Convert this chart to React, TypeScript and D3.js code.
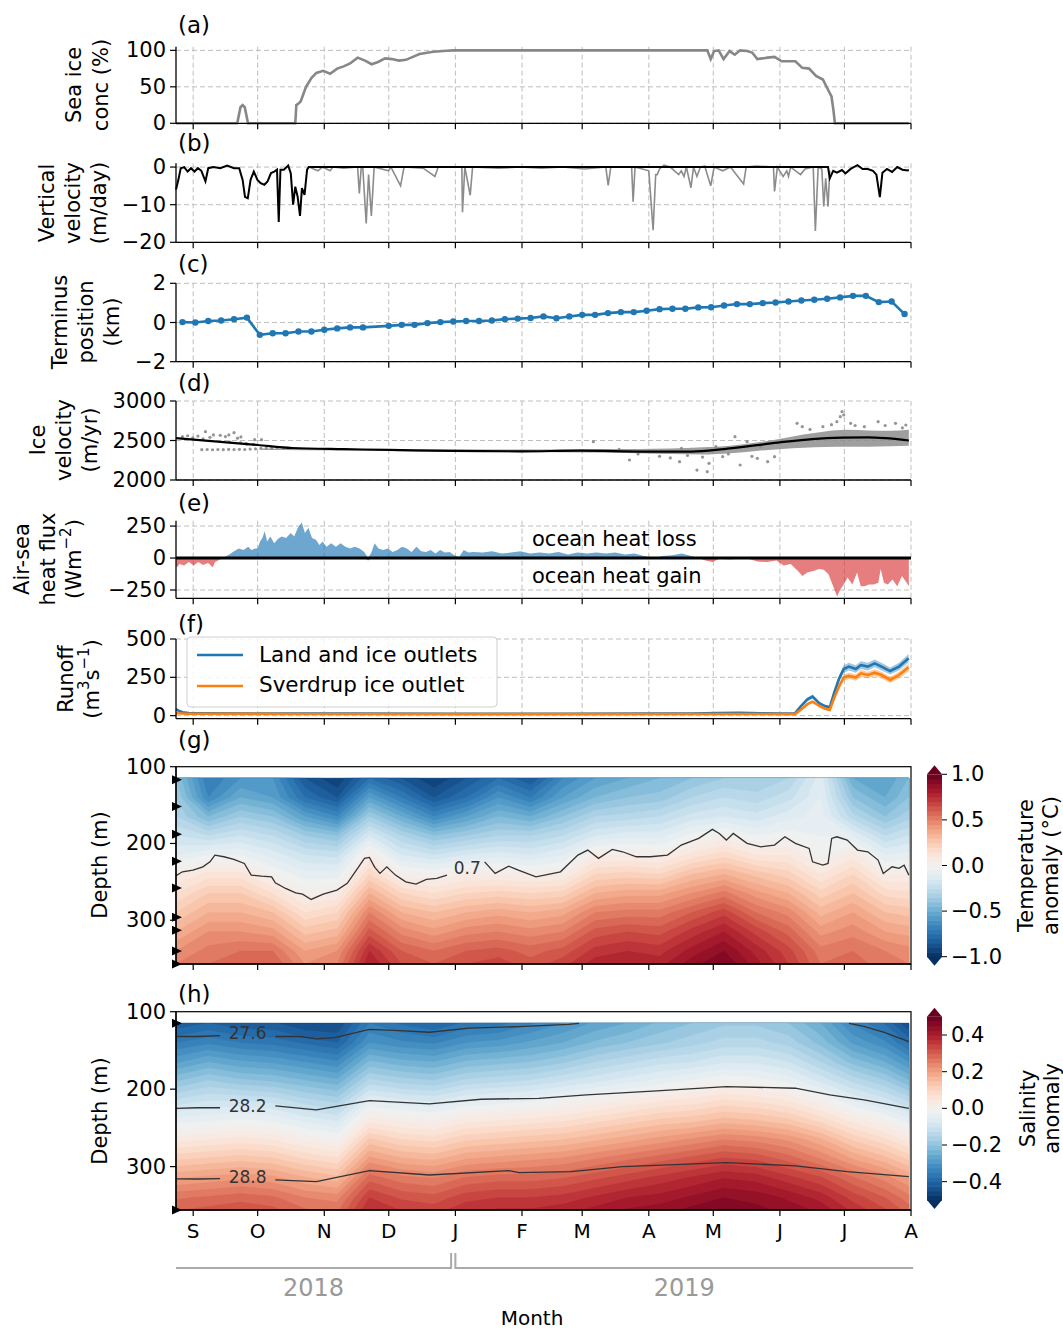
import React from "react";
import * as d3 from "d3";

// ---------- time axis ----------
const T0 = Date.UTC(2018, 7, 24);
const T1 = Date.UTC(2019, 7, 1);
const DAY = 86400000;
const dt = (d: number) => new Date(T0 + d * DAY);
const monthLetters = ["S", "O", "N", "D", "J", "F", "M", "A", "M", "J", "J", "A"];
const yearLabels = ["2018", "2019"];

// ---------- (a) sea ice concentration [day, %] ----------
const iceConc: [number, number][] = [
  [0, 0], [28.5, 0], [30, 22], [31, 25], [32, 22], [33.5, 0], [55.5, 0], [56, 25], [57, 27], [58, 30],
  [60.5, 50], [63, 62], [65.3, 69], [68.5, 72], [71.7, 68], [75, 75], [78, 78], [81, 82], [84.5, 90],
  [88, 86], [91, 81], [94, 84], [97.3, 89], [100.5, 88], [103.7, 86], [107, 87], [113.3, 95], [119.7, 98],
  [126, 99.5], [129.2, 100], [247.2, 100], [248.8, 88], [250.4, 99], [252.5, 100], [254.8, 88], [257.6, 99],
  [260, 94], [262.5, 100], [265.7, 99], [268.1, 97], [270.5, 88], [275.3, 90], [278.5, 91], [281.8, 85],
  [285, 85], [288.2, 85], [291.4, 76], [294.6, 75], [297.8, 65], [301, 60], [303.4, 46], [305, 37],
  [305.9, 18], [306.6, 0], [341, 0],
];

// ---------- (b) vertical velocity [day, m/day] ----------
const vvelOpen: [number, number][] = [
  [0, -6], [1.1, -3.4], [2.2, -0.3], [3.8, 0], [5.4, -1.2], [7, -0.3], [8.6, -1.2], [10.2, -0.3], [11.8, -1],
  [13.7, -3.8], [15, -0.3], [17.4, 0], [20.6, -0.3], [23.8, 0.4], [27, -0.3], [29.4, -0.3], [31, -3.4],
  [32.1, -7.9], [33.4, -8.3], [34.7, -3.4], [36.2, -1.2], [37.9, -3.4], [39.4, -4.3], [41.1, -4.7],
  [42.6, -3.8], [44.2, -1.6], [45.7, -1.2], [47, -0.7], [47.8, -14.6], [48.6, -0.7], [50.2, -0.7],
  [52.2, 0.4], [53.4, -1.6], [54.5, -10], [55.5, -5.2], [56.6, -7.9], [57.7, -13], [58.6, -5.6],
  [59.8, -7.4], [61, -0.7], [61.8, 0], [303.4, 0], [304.2, -3], [305.8, -1], [307.5, -1.5], [309.9, -0.8],
  [311.5, -1.7], [313.9, -0.5], [317.1, 0.5], [319.5, -0.5], [321.9, -0.5], [324.3, -1], [325.9, -2],
  [327.5, -8], [328.7, -1.5], [330.8, -0.5], [333.2, -1.3], [335.6, 0], [338, -0.7], [340.4, -0.9], [341, -0.8],
];
const vvelIce: [number, number][] = [
  [62, 0], [64, -0.5], [66.1, -1], [68, 0], [70.1, -0.5], [71.7, -1], [73, 0], [78, -0.3], [84.5, 0],
  [85.3, -7], [86.2, 0], [86.9, 0], [88.5, -15], [89.6, -2], [90.9, -13], [92.2, 0], [98.9, -1], [100, 0],
  [104.5, -5], [106.1, 0], [115, -0.3], [120.5, -2.5], [122, 0], [133, 0], [133.3, -12], [134.4, 0],
  [136.9, -7.5], [138, 0], [150, -0.3], [160, 0], [170, -0.3], [180, 0], [190, -0.5], [200, 0],
  [201.1, -4.9], [202.3, 0], [212, 0], [212.7, -9.2], [213.6, 0], [220, -1], [222, -16.8], [223.2, -2],
  [223.9, -2], [225, -0.5], [227.1, 0.5], [230, 0], [233.9, -2], [235.1, -1], [236.4, -2.5], [237.5, 0],
  [239.6, -5.5], [240.8, 0], [242.4, -2.5], [244, 0], [246, 0.3], [248.8, -5], [250.4, 0], [254.4, -1],
  [258, 0], [264.1, -4.5], [265.3, 0], [270, 0.3], [278, 0], [278.5, -6.5], [279.8, 0], [282.5, -2.5],
  [284.2, -1], [285, -2.5], [286, 0], [290.6, -2], [292.7, -0.5], [296.5, 0], [297.5, -17], [298.8, 0],
  [300.5, -0.5], [301.4, -10.5], [302.3, -3], [303.4, -10.5], [304.2, -1],
];

// ---------- (c) terminus position [day, km] ----------
const terminus: [number, number][] = [
  [3, 0.02], [9, 0.0], [15, 0.08], [21, 0.1], [27, 0.17], [33, 0.25], [39, -0.63], [45, -0.55], [51, -0.55],
  [57, -0.46], [63, -0.46], [69, -0.37], [75, -0.3], [81, -0.25], [87, -0.25], [99, -0.17], [105, -0.12],
  [111, -0.12], [117, -0.03], [123, 0.02], [129, 0.05], [135, 0.08], [141, 0.08], [147, 0.1], [153, 0.17],
  [159, 0.2], [165, 0.23], [171, 0.31], [177, 0.22], [183, 0.31], [189, 0.39], [195, 0.39], [201, 0.48],
  [207, 0.53], [213, 0.53], [219, 0.6], [225, 0.68], [231, 0.7], [237, 0.7], [243, 0.77], [249, 0.78],
  [255, 0.87], [261, 0.94], [267, 0.94], [273, 0.99], [279, 1.02], [285, 1.07], [291, 1.12], [297, 1.16],
  [303, 1.21], [309, 1.28], [315, 1.36], [321, 1.36], [327, 1.04], [333, 1.07], [339, 0.43],
];

// ---------- (d) ice velocity ----------
const velSmooth: [number, number][] = [
  [0, 2530], [38, 2443], [54, 2405], [78, 2390], [99, 2381], [129, 2368], [160, 2363], [188, 2371],
  [219, 2360], [240, 2360], [255, 2392], [280, 2473], [296, 2518], [310, 2536], [322, 2540], [330, 2530], [341, 2500],
];
const velBand: [number, number, number][] = [
  [40, 2380, 2400], [60, 2377, 2396], [100, 2368, 2390], [130, 2355, 2386], [160, 2350, 2386],
  [190, 2347, 2390], [215, 2338, 2392], [230, 2328, 2398], [245, 2322, 2415], [258, 2338, 2435],
  [270, 2368, 2475], [282, 2392, 2525], [292, 2408, 2575], [302, 2418, 2615], [312, 2422, 2635],
  [322, 2422, 2628], [332, 2427, 2622], [341, 2432, 2635],
];
const velPoints: [number, number][] = [
  [3, 2548], [5.4, 2560], [7.8, 2535], [10.2, 2556], [12.6, 2520], [13.7, 2612], [15.8, 2540], [17.4, 2570],
  [20.6, 2565], [23, 2550], [24.6, 2570], [27, 2599], [28.6, 2530], [30.2, 2545], [32.6, 2460], [36.6, 2510],
  [39.8, 2510], [25, 2480], [30, 2470], [33, 2455], [36, 2450], [12, 2384], [14.5, 2386], [17, 2383],
  [19.5, 2386], [22, 2384], [24.5, 2387], [27, 2385], [29.5, 2388], [32, 2386], [34.5, 2392], [37, 2395],
  [39.5, 2400], [42, 2405], [44.5, 2400], [47, 2410], [50, 2405], [53, 2402], [194.2, 2485], [206.2, 2388],
  [211, 2253], [215, 2330], [225, 2300], [230, 2280], [234.3, 2232], [235.2, 2400], [238, 2310],
  [242.4, 2126], [245, 2290], [247.2, 2105], [248, 2211], [251.2, 2422], [254.4, 2295], [257, 2330],
  [260.1, 2548], [262.5, 2190], [265.7, 2485], [268, 2300], [270.5, 2274], [272, 2420], [275.3, 2232],
  [278.5, 2295], [282, 2500], [289, 2717], [291.4, 2675], [295, 2640], [301, 2675], [305, 2700],
  [307.5, 2738], [309.1, 2802], [309.9, 2865], [310.7, 2823], [313.9, 2717], [316, 2690], [320.3, 2675],
  [326.7, 2738], [330, 2690], [334.8, 2717], [339.6, 2696], [338, 2660],
];

// ---------- (e) air-sea heat flux [day, W m-2] ----------
const heatFlux: [number, number][] = [
  [0, -60], [0.5, -73], [1.6, -46], [3.8, -59], [6, -32], [8.2, -59], [10.4, -32], [12.6, -54], [14.9, -38],
  [17.1, -73], [18.2, -32], [20.4, -11], [22.6, 8], [24.8, 27], [27, 54], [29.2, 75], [31.4, 62], [33.6, 89],
  [35.1, 62], [36.9, 75], [38, 75], [39.1, 129], [40.2, 156], [41.3, 210], [42.4, 129], [43.9, 169],
  [45.7, 116], [47.5, 151], [49.2, 169], [51.2, 156], [53.4, 196], [55, 169], [56.7, 237], [58.5, 277],
  [60, 196], [61.6, 237], [63.3, 156], [65.1, 143], [66.7, 102], [68.2, 129], [70, 89], [72.2, 116],
  [74.4, 89], [76.6, 116], [78.8, 89], [81, 75], [83.2, 89], [85.4, 75], [87.6, 48], [89.4, -19],
  [90.9, 43], [92.4, 116], [94.2, 75], [96.4, 62], [98.6, 75], [100.8, 48], [103, 62], [105.2, 89],
  [107.4, 75], [109.6, 48], [111.9, 89], [114.1, 54], [116.3, 48], [118.5, 62], [120.7, 35], [122.9, 62],
  [125.1, 43], [127.3, 48], [129.5, 22], [131.7, 8], [133.9, 62], [136.1, 43], [138.3, 48], [142.7, 43],
  [147.1, 54], [151.5, 35], [155.9, 43], [160.3, 54], [164.8, 35], [169.2, 43], [173.6, 35], [178, 48],
  [182.4, 27], [186.8, 43], [191.2, 35], [195.6, 43], [200, 35], [204.4, 43], [208.8, 27], [213.3, 35],
  [217.7, 16], [222.1, -5], [226.5, 16], [230.9, 22], [235.3, 35], [239.7, 16], [243, 0], [246.3, -19],
  [249.6, -32], [252.9, -5], [257.3, -11], [261.8, -5], [266.2, -5], [270.6, -27], [275, -32], [279.4, -19],
  [282.7, -59], [286, -46], [289.3, -100], [291.5, -140], [293.7, -113], [297, -100], [299.2, -86],
  [301.4, -91], [303.6, -126], [305.8, -221], [307.6, -301], [309.1, -247], [310.7, -207], [312.5, -153],
  [314.7, -207], [316.9, -113], [318.6, -221], [320.4, -221], [322.4, -207], [324.6, -207], [326.8, -194],
  [327.9, -86], [329.4, -194], [331.2, -207], [333.4, -167], [335.6, -221], [337.8, -140], [340, -194], [341, -221],
];

// ---------- (f) runoff [day, value, half-width] ----------
const runoffLand: [number, number, number][] = [
  [0, 42, 4], [1.5, 30, 3], [3, 22, 3], [6, 17, 3], [12, 15, 3], [40, 14, 3], [80, 13, 3], [130, 12, 3],
  [180, 12, 3], [220, 13, 3], [240, 14, 3], [252, 17, 4], [262, 19, 4], [272, 16, 4], [282, 14, 3],
  [288, 15, 3], [290.6, 59, 8], [293.8, 106, 12], [296.2, 124, 14], [299.4, 80, 10], [302, 62, 8],
  [304.2, 54, 7], [306.2, 146, 15], [308.5, 240, 20], [310.7, 304, 24], [313.1, 320, 25], [316.3, 304, 24],
  [318.7, 330, 25], [321.9, 320, 25], [325.1, 341, 26], [328.3, 320, 25], [332.3, 291, 23], [336.4, 320, 25],
  [340.9, 374, 28],
];
const runoffSverdrup: [number, number, number][] = [
  [0, 16, 3], [5, 12, 2], [60, 11, 2], [150, 10, 2], [250, 11, 2], [288, 10, 2], [290.6, 37, 5],
  [293.8, 75, 8], [296.2, 91, 10], [299.4, 63, 8], [302, 45, 6], [304.2, 37, 5], [306.2, 113, 12],
  [308.5, 190, 18], [310.7, 248, 20], [313.1, 259, 20], [316.3, 248, 20], [318.7, 276, 22], [321.9, 265, 22],
  [325.1, 280, 22], [328.3, 265, 22], [332.3, 233, 20], [336.4, 265, 22], [340.9, 315, 25],
];

// ---------- (g,h) ocean sections ----------
const gridDays = [0, 15, 30, 45, 60, 75, 90, 105, 120, 135, 150, 165, 180, 195, 210, 225, 240, 255, 270, 285, 300, 315, 330, 341];
const gridDepths = [115, 140, 165, 190, 215, 240, 265, 290, 315, 340, 357];
const tempAnom: number[][] = [
  [-0.4, -0.35, -0.3, -0.2, -0.1, 0.05, 0.15, 0.25, 0.35, 0.45, 0.5],
  [-0.7, -0.65, -0.45, -0.25, -0.05, 0.12, 0.25, 0.35, 0.45, 0.52, 0.55],
  [-0.6, -0.5, -0.35, -0.2, -0.05, 0.12, 0.25, 0.35, 0.45, 0.55, 0.6],
  [-0.6, -0.55, -0.4, -0.25, -0.12, 0.0, 0.15, 0.3, 0.42, 0.55, 0.6],
  [-0.85, -0.75, -0.55, -0.35, -0.2, -0.08, 0.03, 0.15, 0.28, 0.4, 0.45],
  [-0.95, -0.85, -0.65, -0.4, -0.22, -0.08, 0.06, 0.2, 0.32, 0.45, 0.5],
  [-0.75, -0.55, -0.35, -0.15, 0.05, 0.2, 0.35, 0.5, 0.62, 0.75, 0.8],
  [-0.85, -0.7, -0.5, -0.3, -0.15, 0.02, 0.2, 0.35, 0.48, 0.6, 0.65],
  [-0.95, -0.85, -0.65, -0.4, -0.2, 0.0, 0.15, 0.3, 0.42, 0.55, 0.6],
  [-0.85, -0.75, -0.55, -0.35, -0.15, 0.05, 0.2, 0.35, 0.48, 0.6, 0.65],
  [-0.75, -0.6, -0.45, -0.3, -0.12, 0.05, 0.22, 0.38, 0.5, 0.62, 0.68],
  [-0.85, -0.7, -0.5, -0.3, -0.15, 0.03, 0.2, 0.35, 0.47, 0.58, 0.62],
  [-0.65, -0.55, -0.4, -0.25, -0.1, 0.05, 0.22, 0.38, 0.5, 0.62, 0.68],
  [-0.55, -0.45, -0.3, -0.15, 0.05, 0.2, 0.35, 0.5, 0.62, 0.72, 0.78],
  [-0.5, -0.4, -0.28, -0.12, 0.05, 0.22, 0.38, 0.52, 0.65, 0.75, 0.8],
  [-0.45, -0.38, -0.25, -0.12, 0.03, 0.2, 0.38, 0.52, 0.63, 0.73, 0.78],
  [-0.4, -0.3, -0.18, -0.03, 0.12, 0.3, 0.45, 0.6, 0.72, 0.82, 0.88],
  [-0.35, -0.25, -0.15, 0.02, 0.18, 0.35, 0.52, 0.68, 0.8, 0.9, 0.95],
  [-0.35, -0.28, -0.18, -0.05, 0.1, 0.28, 0.42, 0.55, 0.68, 0.78, 0.82],
  [-0.3, -0.22, -0.12, -0.02, 0.1, 0.22, 0.35, 0.48, 0.58, 0.67, 0.7],
  [-0.12, -0.1, -0.08, -0.05, -0.01, 0.1, 0.22, 0.33, 0.43, 0.52, 0.55],
  [-0.5, -0.4, -0.28, -0.1, 0.08, 0.2, 0.3, 0.4, 0.48, 0.55, 0.58],
  [-0.55, -0.5, -0.4, -0.25, -0.1, 0.05, 0.18, 0.3, 0.4, 0.5, 0.52],
  [-0.45, -0.4, -0.32, -0.2, -0.08, 0.05, 0.16, 0.28, 0.38, 0.47, 0.5],
];
const salAnom: number[][] = [
  [-0.42, -0.35, -0.28, -0.2, -0.12, -0.04, 0.04, 0.12, 0.2, 0.27, 0.3],
  [-0.4, -0.33, -0.25, -0.17, -0.1, -0.03, 0.05, 0.13, 0.21, 0.28, 0.31],
  [-0.42, -0.35, -0.27, -0.19, -0.1, -0.02, 0.06, 0.14, 0.22, 0.29, 0.32],
  [-0.42, -0.36, -0.28, -0.2, -0.11, -0.03, 0.05, 0.13, 0.21, 0.28, 0.31],
  [-0.45, -0.38, -0.3, -0.22, -0.14, -0.06, 0.02, 0.1, 0.18, 0.25, 0.28],
  [-0.45, -0.4, -0.32, -0.24, -0.16, -0.08, 0.0, 0.08, 0.16, 0.24, 0.27],
  [-0.35, -0.3, -0.22, -0.14, -0.05, 0.04, 0.13, 0.21, 0.29, 0.35, 0.38],
  [-0.38, -0.32, -0.24, -0.16, -0.07, 0.02, 0.1, 0.18, 0.26, 0.32, 0.35],
  [-0.4, -0.33, -0.25, -0.17, -0.08, 0.01, 0.09, 0.17, 0.25, 0.31, 0.34],
  [-0.37, -0.3, -0.22, -0.14, -0.05, 0.04, 0.12, 0.2, 0.28, 0.34, 0.37],
  [-0.36, -0.29, -0.21, -0.13, -0.04, 0.05, 0.13, 0.21, 0.29, 0.35, 0.38],
  [-0.33, -0.27, -0.2, -0.12, -0.03, 0.06, 0.14, 0.22, 0.29, 0.35, 0.38],
  [-0.3, -0.25, -0.18, -0.1, -0.01, 0.07, 0.15, 0.23, 0.3, 0.36, 0.39],
  [-0.27, -0.22, -0.15, -0.08, 0.01, 0.09, 0.17, 0.25, 0.32, 0.38, 0.41],
  [-0.25, -0.2, -0.13, -0.06, 0.03, 0.11, 0.19, 0.27, 0.34, 0.4, 0.43],
  [-0.22, -0.18, -0.11, -0.04, 0.05, 0.13, 0.21, 0.29, 0.36, 0.41, 0.44],
  [-0.2, -0.16, -0.1, -0.02, 0.06, 0.14, 0.23, 0.31, 0.38, 0.43, 0.46],
  [-0.18, -0.14, -0.08, 0.0, 0.08, 0.16, 0.25, 0.33, 0.4, 0.45, 0.47],
  [-0.18, -0.14, -0.08, -0.01, 0.07, 0.15, 0.24, 0.32, 0.39, 0.44, 0.46],
  [-0.2, -0.16, -0.1, -0.03, 0.05, 0.13, 0.22, 0.29, 0.36, 0.42, 0.44],
  [-0.25, -0.21, -0.15, -0.08, 0.01, 0.09, 0.18, 0.25, 0.33, 0.39, 0.42],
  [-0.33, -0.28, -0.21, -0.13, -0.05, 0.04, 0.12, 0.2, 0.28, 0.34, 0.37],
  [-0.38, -0.32, -0.25, -0.17, -0.09, 0.0, 0.08, 0.16, 0.24, 0.3, 0.33],
  [-0.45, -0.38, -0.3, -0.22, -0.13, -0.04, 0.04, 0.12, 0.2, 0.26, 0.29],
];
// 0.7 °C isotherm depth [day, m]
const iso07: [number, number][] = [
  [0, 241], [0.5, 241.2], [3, 236.9], [7.9, 234.7], [12.5, 230.4], [15.8, 223.9], [18.1, 215.2], [22.3, 217.3],
  [26.9, 220.8], [31.8, 226], [35, 241.2], [39.8, 242.5], [44.5, 243.4], [46.2, 251.2], [51, 258.6],
  [55.7, 264.3], [58.9, 266], [62.9, 272.9], [68.5, 266], [74.9, 260.8], [79.7, 252], [84.5, 232.5],
  [87.7, 219.4], [90, 218.1], [92.5, 231.2], [94.9, 239], [98.1, 230.4], [102.1, 241.2], [106.9, 249.9],
  [111.7, 252.9], [116.5, 246.8], [121.3, 245.5], [126.1, 241.2], [143.6, 223.9], [148.5, 239],
  [154.8, 229.5], [159.6, 235], [167.5, 243.4], [178.9, 236.9], [187, 215.2], [191.6, 208.6], [196.6, 219.4],
  [203, 207.7], [207.8, 210.8], [214.2, 217.3], [220.7, 217.3], [228.7, 215.2], [235.1, 202.1], [243.2, 193.4],
  [249.6, 181.6], [252.8, 186.9], [256.1, 195.6], [259.3, 186.9], [265.7, 199.9], [272.1, 204.3],
  [278.5, 202.1], [283.3, 191.3], [288.2, 199.9], [294.6, 206.4], [296.2, 223.9], [301, 228.2], [303.4, 226],
  [305.1, 193.4], [307.5, 191.3], [312.3, 195.6], [317.1, 208.6], [321.9, 210.8], [326.7, 221.6],
  [329.1, 239], [333.2, 230.4], [336.4, 232.5], [338.8, 228.2], [341, 241.2],
];
// salinity isohalines [day, m]
const sal276a: [number, number][] = [
  [0, 132], [10, 132], [20.5, 131], [46.2, 132], [57.5, 132], [65.3, 135], [73.8, 133.5], [90, 122.7],
  [103.9, 124.4], [117.9, 126.5], [136.4, 121.3], [159.6, 119.3], [182.8, 116.3], [187.5, 115],
];
const sal276b: [number, number][] = [[313.1, 115], [320.2, 119], [329.9, 127], [341, 138.7]];
const sal282: [number, number][] = [
  [0, 224.7], [10, 224], [20.5, 224], [46.2, 221.7], [65.3, 226.8], [90, 214.8], [117.9, 219], [142, 213],
  [168.8, 211.8], [191, 207.5], [223.7, 202.3], [256.1, 196.7], [288.2, 198.8], [304.2, 207.5], [320.2, 213.8],
  [341, 224.7],
];
const sal288: [number, number][] = [
  [0, 315.9], [10, 316], [20.5, 315.5], [46.2, 317.2], [65.3, 319.4], [90, 305.2], [117.9, 310.8],
  [154.8, 305.2], [159.6, 307.8], [183.8, 306.5], [207.8, 300], [256.1, 294.8], [288.2, 299], [312.3, 306.5],
  [341, 313],
];
const salLabels: [string, number][] = [["27.6", 128], ["28.2", 221.7], ["28.8", 313]];
const tempInstrDepths = [117, 152, 188, 223, 258, 296, 313, 340, 357];
const salInstrDepths = [115, 356];

// ---------- layout ----------
const X0 = 176;
const X1 = 911;
const FONT = "DejaVu Sans";
const fmtNum = (v: number) => (v < 0 ? "\u2212" + Math.abs(v) : String(v));
const fmt1 = (v: number) => (v < 0 ? "\u2212" + Math.abs(v).toFixed(1) : v.toFixed(1));

const x = d3.scaleUtc().domain([new Date(T0), new Date(T1)]).range([X0, X1]);
const xd = (d: number) => x(dt(d));
const months = d3.utcMonth.range(new Date(Date.UTC(2018, 8, 1)), new Date(Date.UTC(2019, 7, 2)));

function splitAt(data: [number, number][], lo: number, hi: number) {
  return [data.filter((d) => d[0] <= lo), data.filter((d) => d[0] >= hi)];
}

function Grid({ y, top, bottom, ticks }: any) {
  return (
    <g>
      {months.map((m, i) => (
        <line key={"gx" + i} x1={x(m)} x2={x(m)} y1={top} y2={bottom} stroke="#b8b8b8" strokeWidth={0.9} strokeDasharray="5,3" />
      ))}
      {ticks.map((t: number, i: number) => (
        <line key={"gy" + i} x1={X0} x2={X1} y1={y(t)} y2={y(t)} stroke="#b8b8b8" strokeWidth={0.9} strokeDasharray="5,3" />
      ))}
    </g>
  );
}

function Axes({ y, top, bottom, ticks, box, xLabels, fmt }: any) {
  const f = fmt || fmtNum;
  return (
    <g>
      {box && <rect x={X0} y={top} width={X1 - X0} height={bottom - top} fill="none" stroke="#000" strokeWidth={1.2} />}
      <line x1={X0} x2={X0} y1={top} y2={bottom} stroke="#000" strokeWidth={1.3} />
      <line x1={X0} x2={X1} y1={bottom} y2={bottom} stroke="#000" strokeWidth={1.3} />
      {ticks.map((t: number, i: number) => (
        <g key={"yt" + i}>
          <line x1={X0 - 6} x2={X0} y1={y(t)} y2={y(t)} stroke="#000" strokeWidth={1.2} />
          <text x={X0 - 10} y={y(t)} textAnchor="end" dominantBaseline="central" fontSize={21}>
            {f(t)}
          </text>
        </g>
      ))}
      {months.map((m, i) => (
        <g key={"xt" + i}>
          <line x1={x(m)} x2={x(m)} y1={bottom} y2={bottom + 6} stroke="#000" strokeWidth={1.2} />
          {xLabels && (
            <text x={x(m)} y={bottom + 28} textAnchor="middle" fontSize={20}>
              {monthLetters[i]}
            </text>
          )}
        </g>
      ))}
    </g>
  );
}

function YLabel({ lines, xs, cy }: any) {
  return (
    <g>
      {lines.map((l: any, i: number) => (
        <text key={i} transform={`translate(${xs[i]},${cy}) rotate(-90)`} textAnchor="middle" dominantBaseline="central" fontSize={21}>
          {l}
        </text>
      ))}
    </g>
  );
}

function PanelLabel({ t, y }: any) {
  return (
    <text x={178} y={y} fontSize={23}>
      {t}
    </text>
  );
}

function Section({ grid, vmin, vmax, step, y, top, bottom, id }: any) {
  const n = gridDays.length;
  const m = gridDepths.length;
  const values = new Array(n * m);
  for (let j = 0; j < m; j++) for (let i = 0; i < n; i++) values[j * n + i] = grid[i][j];
  const thresholds = d3.range(vmin, vmax + 1e-9, step);
  const cont = d3.contours().size([n, m]).thresholds(thresholds)(values);
  const gx = d3
    .scaleLinear()
    .domain([0, ...gridDays.map((_, i) => i + 0.5), n])
    .range([xd(gridDays[0]), ...gridDays.map((d) => xd(d)), xd(gridDays[n - 1])]);
  const gy = d3
    .scaleLinear()
    .domain([0, ...gridDepths.map((_, i) => i + 0.5), m])
    .range([y(gridDepths[0]), ...gridDepths.map((d) => y(d)), y(gridDepths[m - 1])]);
  const proj = d3.geoTransform({
    point: function (px: number, py: number) {
      (this as any).stream.point(gx(px), gy(py));
    },
  });
  const path = d3.geoPath(proj as any);
  const color = (v: number) => d3.interpolateRdBu(1 - (v - vmin) / (vmax - vmin));
  return (
    <g>
      <clipPath id={id}>
        <rect x={X0} y={top} width={X1 - X0} height={bottom - top} />
      </clipPath>
      <g clipPath={`url(#${id})`}>
        {cont.map((c: any, i: number) => (
          <path key={i} d={path(c) || ""} fill={color(Math.min(vmax, c.value + step / 2))} stroke={color(Math.min(vmax, c.value + step / 2))} strokeWidth={0.3} />
        ))}
      </g>
    </g>
  );
}

function Colorbar({ top, bottom, vmin, vmax, step, ticks, labelLines, labelXs }: any) {
  const c0 = 927;
  const c1 = 942;
  const ext = 9;
  const y = d3.scaleLinear().domain([vmin, vmax]).range([bottom, top]);
  const color = (v: number) => d3.interpolateRdBu(1 - (v - vmin) / (vmax - vmin));
  const levels = d3.range(vmin, vmax - step / 2, step);
  const cy = (top + bottom) / 2;
  return (
    <g>
      {levels.map((l, i) => (
        <rect key={i} x={c0} y={y(l + step)} width={c1 - c0} height={y(l) - y(l + step) + 0.6} fill={color(l + step / 2)} />
      ))}
      <polygon points={`${c0},${top} ${c1},${top} ${(c0 + c1) / 2},${top - ext}`} fill={d3.interpolateRdBu(0)} />
      <polygon points={`${c0},${bottom} ${c1},${bottom} ${(c0 + c1) / 2},${bottom + ext}`} fill={d3.interpolateRdBu(1)} />
      {ticks.map((t: number, i: number) => (
        <g key={i}>
          <line x1={c1} x2={c1 + 5} y1={y(t)} y2={y(t)} stroke="#000" strokeWidth={1} />
          <text x={c1 + 9} y={y(t)} dominantBaseline="central" fontSize={21}>
            {fmt1(t)}
          </text>
        </g>
      ))}
      <YLabel lines={labelLines} xs={labelXs} cy={cy} />
    </g>
  );
}

function Markers({ depths, y }: any) {
  return (
    <g>
      {depths.map((d: number, i: number) => (
        <polygon key={i} points={`${X0 - 4},${y(d) - 4.5} ${X0 - 4},${y(d) + 4.5} ${X0 + 6},${y(d)}`} fill="#000" />
      ))}
    </g>
  );
}

export default function App() {
  // y scales
  const ya = d3.scaleLinear().domain([0, 105]).range([123.3, 46.7]);
  const yb = d3.scaleLinear().domain([-20, 1]).range([242.3, 163.3]);
  const yc = d3.scaleLinear().domain([-2, 2]).range([361.7, 283.3]);
  const yd = d3.scaleLinear().domain([2000, 3000]).range([480, 401]);
  const ye = d3.scaleLinear().domain([-315, 292]).range([598.3, 520.7]);
  const yf = d3.scaleLinear().domain([-20, 500]).range([718.7, 639]);
  const yg = d3.scaleLinear().domain([100, 357]).range([766.7, 964]);
  const yh = d3.scaleLinear().domain([100, 356]).range([1011.7, 1210]);

  const line = (ys: any, curve: any = d3.curveLinear) =>
    d3
      .line<[number, number]>()
      .x((d) => xd(d[0]))
      .y((d) => ys(d[1]))
      .curve(curve);

  const fluxPos = d3
    .area<[number, number]>()
    .x((d) => xd(d[0]))
    .y0(ye(0))
    .y1((d) => ye(Math.max(0, d[1])));
  const fluxNeg = d3
    .area<[number, number]>()
    .x((d) => xd(d[0]))
    .y0(ye(0))
    .y1((d) => ye(Math.min(0, d[1])));

  const band = (ys: any) =>
    d3
      .area<[number, number, number]>()
      .x((d) => xd(d[0]))
      .y0((d) => ys(d[1] - d[2]))
      .y1((d) => ys(d[1] + d[2]));

  const velArea = d3
    .area<[number, number, number]>()
    .x((d) => xd(d[0]))
    .y0((d) => yd(d[1]))
    .y1((d) => yd(d[2]))
    .curve(d3.curveMonotoneX);

  const runLine = d3
    .line<[number, number, number]>()
    .x((d) => xd(d[0]))
    .y((d) => yf(d[1]));

  const yearSplitL = xd(128);
  const yearSplitR = x(new Date(Date.UTC(2019, 0, 1)));
  const yearEnd = xd(343);

  const isoSegs = splitAt(iso07, 127, 143.5);
  const salSegs = [...splitAt(sal276a, 20.5, 46.2), sal276b, ...splitAt(sal282, 20.5, 46.2), ...splitAt(sal288, 20.5, 46.2)];

  return (
    <svg
      width={1063}
      height={1331}
      style={{ position: "absolute", left: 0, top: 0, background: "#fff", display: "block" }}
      fontFamily={FONT}
    >
      <rect x={0} y={0} width={1063} height={1331} fill="#fff" />

      {/* (a) */}
      <PanelLabel t="(a)" y={33} />
      <Grid y={ya} top={46.7} bottom={123.3} ticks={[0, 50, 100]} />
      <path d={line(ya)(iceConc) || ""} fill="none" stroke="#878787" strokeWidth={2.6} />
      <Axes y={ya} top={46.7} bottom={123.3} ticks={[0, 50, 100]} />
      <YLabel lines={["Sea ice", "conc (%)"]} xs={[74, 101]} cy={85} />

      {/* (b) */}
      <PanelLabel t="(b)" y={151} />
      <Grid y={yb} top={163.3} bottom={242.3} ticks={[-20, -10, 0]} />
      <path d={line(yb)(vvelIce) || ""} fill="none" stroke="#8c8c8c" strokeWidth={1.6} />
      <path d={line(yb)(vvelOpen) || ""} fill="none" stroke="#000" strokeWidth={2} />
      <Axes y={yb} top={163.3} bottom={242.3} ticks={[-20, -10, 0]} />
      <YLabel lines={["Vertical", "velocity", "(m/day)"]} xs={[47, 73, 99]} cy={203} />

      {/* (c) */}
      <PanelLabel t="(c)" y={272} />
      <Grid y={yc} top={283.3} bottom={361.7} ticks={[-2, 0, 2]} />
      <path d={line(yc)(terminus) || ""} fill="none" stroke="#1f77b4" strokeWidth={2.6} />
      {terminus.map((d, i) => (
        <circle key={i} cx={xd(d[0])} cy={yc(d[1])} r={3.2} fill="#1f77b4" />
      ))}
      <Axes y={yc} top={283.3} bottom={361.7} ticks={[-2, 0, 2]} />
      <YLabel lines={["Terminus", "position", "(km)"]} xs={[60, 86, 112]} cy={322} />

      {/* (d) */}
      <PanelLabel t="(d)" y={391} />
      <Grid y={yd} top={401} bottom={480} ticks={[2000, 2500, 3000]} />
      <path d={velArea(velBand) || ""} fill="#8e8e8e" fillOpacity={0.85} />
      {velPoints.map((d, i) => (
        <circle key={i} cx={xd(d[0])} cy={yd(d[1])} r={1.6} fill="#8a8a8a" fillOpacity={0.9} />
      ))}
      <path d={line(yd, d3.curveMonotoneX)(velSmooth) || ""} fill="none" stroke="#000" strokeWidth={2.2} />
      <Axes y={yd} top={401} bottom={480} ticks={[2000, 2500, 3000]} />
      <YLabel lines={["Ice", "velocity", "(m/yr)"]} xs={[38, 64, 90]} cy={440} />

      {/* (e) */}
      <PanelLabel t="(e)" y={511} />
      <Grid y={ye} top={520.7} bottom={598.3} ticks={[-250, 0, 250]} />
      <path d={fluxPos(heatFlux) || ""} fill="#1f77b4" fillOpacity={0.65} />
      <path d={fluxNeg(heatFlux) || ""} fill="#d62728" fillOpacity={0.6} />
      <line x1={X0} x2={X1} y1={ye(0)} y2={ye(0)} stroke="#000" strokeWidth={3} />
      <text x={532} y={546} fontSize={21}>ocean heat loss</text>
      <text x={532} y={583} fontSize={21}>ocean heat gain</text>
      <Axes y={ye} top={520.7} bottom={598.3} ticks={[-250, 0, 250]} />
      <YLabel
        lines={[
          "Air-sea",
          "heat flux",
          <tspan key="w">
            (Wm
            <tspan dy={-8} fontSize={15}>
              {"\u22122"}
            </tspan>
            <tspan dy={8}>)</tspan>
          </tspan>,
        ]}
        xs={[22, 48, 74]}
        cy={559}
      />

      {/* (f) */}
      <PanelLabel t="(f)" y={632} />
      <Grid y={yf} top={639} bottom={718.7} ticks={[0, 250, 500]} />
      <path d={band(yf)(runoffLand) || ""} fill="#1f77b4" fillOpacity={0.4} />
      <path d={band(yf)(runoffSverdrup) || ""} fill="#ff7f0e" fillOpacity={0.4} />
      <path d={runLine(runoffLand) || ""} fill="none" stroke="#1f77b4" strokeWidth={2.6} />
      <path d={runLine(runoffSverdrup) || ""} fill="none" stroke="#ff7f0e" strokeWidth={2.6} />
      <Axes y={yf} top={639} bottom={718.7} ticks={[0, 250, 500]} />
      <g>
        <rect x={187} y={637} width={310} height={70} rx={4} fill="#fff" fillOpacity={0.85} stroke="#d0d0d0" strokeWidth={1} />
        <line x1={197} x2={243} y1={655} y2={655} stroke="#1f77b4" strokeWidth={2.6} />
        <text x={259} y={662} fontSize={21.5}>Land and ice outlets</text>
        <line x1={197} x2={243} y1={686} y2={686} stroke="#ff7f0e" strokeWidth={2.6} />
        <text x={259} y={692} fontSize={21.5}>Sverdrup ice outlet</text>
      </g>
      <YLabel
        lines={[
          "Runoff",
          <tspan key="r">
            (m
            <tspan dy={-8} fontSize={15}>3</tspan>
            <tspan dy={8}>s</tspan>
            <tspan dy={-8} fontSize={15}>{"\u22121"}</tspan>
            <tspan dy={8}>)</tspan>
          </tspan>,
        ]}
        xs={[66, 92]}
        cy={679}
      />

      {/* (g) */}
      <PanelLabel t="(g)" y={748} />
      <Section grid={tempAnom} vmin={-1} vmax={1} step={0.05} y={yg} top={766.7} bottom={964} id="clipg" />
      {isoSegs.map((s, i) => (
        <path key={i} d={line(yg)(s) || ""} fill="none" stroke="#333" strokeWidth={1.3} />
      ))}
      <text x={xd(135.5)} y={yg(232.5)} textAnchor="middle" dominantBaseline="central" fontSize={17} fill="#333">
        0.7
      </text>
      <Axes y={yg} top={766.7} bottom={964} ticks={[100, 200, 300]} box />
      <Markers depths={tempInstrDepths} y={yg} />
      <YLabel lines={["Depth (m)"]} xs={[100]} cy={865} />
      <Colorbar
        top={774.3}
        bottom={956.7}
        vmin={-1}
        vmax={1}
        step={0.05}
        ticks={[1, 0.5, 0, -0.5, -1]}
        labelLines={["Temperature", "anomaly (\u00b0C)"]}
        labelXs={[1026, 1051]}
      />

      {/* (h) */}
      <PanelLabel t="(h)" y={1002} />
      <Section grid={salAnom} vmin={-0.5} vmax={0.5} step={0.025} y={yh} top={1011.7} bottom={1210} id="cliph" />
      {salSegs.map((s, i) => (
        <path key={i} d={line(yh)(s) || ""} fill="none" stroke="#333" strokeWidth={1.3} />
      ))}
      {salLabels.map((l, i) => (
        <text key={i} x={xd(33.3)} y={yh(l[1])} textAnchor="middle" dominantBaseline="central" fontSize={17} fill="#333">
          {l[0]}
        </text>
      ))}
      <Axes y={yh} top={1011.7} bottom={1210} ticks={[100, 200, 300]} box xLabels />
      <Markers depths={salInstrDepths} y={yh} />
      <YLabel lines={["Depth (m)"]} xs={[100]} cy={1111} />
      <Colorbar
        top={1016.7}
        bottom={1200}
        vmin={-0.5}
        vmax={0.5}
        step={0.025}
        ticks={[0.4, 0.2, 0, -0.2, -0.4]}
        labelLines={["Salinity", "anomaly"]}
        labelXs={[1028, 1052]}
      />

      {/* year brackets */}
      <g stroke="#aaaaaa" strokeWidth={2} fill="none">
        <polyline points={`${X0},1268 ${yearSplitL},1268 ${yearSplitL},1253`} />
        <polyline points={`${yearSplitR},1253 ${yearSplitR},1268 ${yearEnd},1268`} />
      </g>
      <text x={(X0 + yearSplitL) / 2} y={1296} textAnchor="middle" fontSize={24} fill="#999">
        {yearLabels[0]}
      </text>
      <text x={(yearSplitR + yearEnd) / 2} y={1296} textAnchor="middle" fontSize={24} fill="#999">
        {yearLabels[1]}
      </text>
      <text x={532} y={1325} textAnchor="middle" fontSize={20}>
        Month
      </text>
    </svg>
  );
}
